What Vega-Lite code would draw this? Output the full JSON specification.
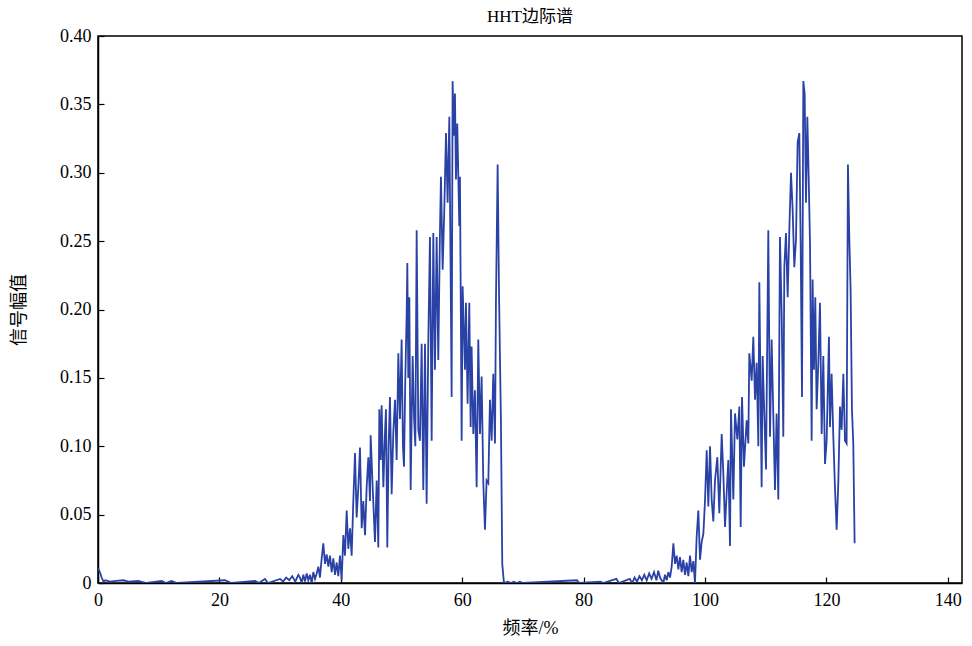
{
  "$schema": "https://vega.github.io/schema/vega-lite/v6.json",
  "width": 864,
  "height": 547,
  "autosize": {"type": "none"},
  "padding": {"left": 98, "top": 36, "right": 10, "bottom": 63},
  "background": "white",
  "config": {
    "view": {"stroke": "black", "strokeWidth": 1.5},
    "font": "Liberation Serif",
    "axis": {"grid": false, "domainColor": "black", "domainWidth": 1.5, "tickColor": "black", "tickWidth": 1.2, "labelColor": "black", "titleColor": "black", "labelFont": "Liberation Serif", "titleFont": "Liberation Serif, Noto Sans CJK SC", "labelFontSize": 18, "titleFontSize": 18, "titleFontWeight": "normal"}
  },
  "title": {"text": "HHT边际谱", "font": "Liberation Serif, Noto Sans CJK SC", "fontSize": 17, "fontWeight": "normal", "color": "black", "anchor": "middle", "offset": 1},
  "data": {"values": [
    {"f":0,"a":0.011},{"f":0.3,"a":0.008},{"f":0.6,"a":0.004},{"f":0.9,"a":0.001},{"f":1.2,"a":0.002},{"f":2,"a":0.001},{"f":3,"a":0.0015},{"f":4.2,"a":0.002},{"f":5,"a":0.001},{"f":6.6,"a":0.0015},{"f":8,"a":0},{"f":10.5,"a":0.0015},{"f":11.2,"a":0},{"f":12.1,"a":0.0015},{"f":13,"a":0},{"f":20.9,"a":0.002},{"f":22,"a":0},{"f":25.9,"a":0.0015},{"f":26.5,"a":0},{"f":27.5,"a":0.003},{"f":28,"a":0},{"f":30,"a":0.003},{"f":30.5,"a":0.001},{"f":31,"a":0.004},{"f":31.5,"a":0.002},{"f":32,"a":0.005},{"f":32.5,"a":0.001},{"f":33,"a":0.006},
    {"f":33.28,"a":0.004},{"f":33.55,"a":0},{"f":33.83,"a":0.006},{"f":34.1,"a":0.001},{"f":34.38,"a":0.007},{"f":34.65,"a":0.002},{"f":34.93,"a":0.006},{"f":35.2,"a":0},{"f":35.48,"a":0.008},{"f":35.75,"a":0.003},{"f":36.03,"a":0.007},{"f":36.3,"a":0.012},{"f":36.57,"a":0.004},{"f":36.85,"a":0.018},{"f":37.12,"a":0.029},{"f":37.4,"a":0.014},{"f":37.67,"a":0.021},{"f":37.95,"a":0.012},{"f":38.22,"a":0.02},{"f":38.5,"a":0.008},{"f":38.77,"a":0.018},{"f":39.04,"a":0.006},{"f":39.32,"a":0.015},{"f":39.59,"a":0.005},{"f":39.87,"a":0.02},{"f":40.14,"a":0.002},{"f":40.42,"a":0.035},{"f":40.69,"a":0.02},{"f":40.97,"a":0.053},{"f":41.24,"a":0.025},{"f":41.52,"a":0.04},{"f":41.79,"a":0.02},{"f":42.06,"a":0.06},{"f":42.34,"a":0.095},{"f":42.61,"a":0.048},{"f":42.89,"a":0.07},{"f":43.16,"a":0.099},{"f":43.44,"a":0.04},{"f":43.71,"a":0.06},{"f":43.99,"a":0.035},{"f":44.26,"a":0.07},{"f":44.54,"a":0.092},{"f":44.81,"a":0.06},{"f":44.92,"a":0.108},{"f":45.25,"a":0.07},{"f":45.63,"a":0.03},{"f":45.91,"a":0.075},{"f":46.18,"a":0.026},{"f":46.35,"a":0.127},{"f":46.57,"a":0.09},{"f":46.73,"a":0.13},{"f":47.01,"a":0.07},{"f":47.28,"a":0.11},{"f":47.44,"a":0.127},{"f":47.66,"a":0.026},{"f":47.88,"a":0.1},{"f":48.1,"a":0.136},{"f":48.38,"a":0.065},{"f":48.65,"a":0.11},{"f":48.93,"a":0.134},{"f":49.2,"a":0.09},{"f":49.48,"a":0.168},
    {"f":49.75,"a":0.12},{"f":50.02,"a":0.178},{"f":50.24,"a":0.1},{"f":50.41,"a":0.085},{"f":50.63,"a":0.15},{"f":50.85,"a":0.197},{"f":50.96,"a":0.234},{"f":51.12,"a":0.15},{"f":51.29,"a":0.209},{"f":51.51,"a":0.068},{"f":51.67,"a":0.12},{"f":51.84,"a":0.166},{"f":52.06,"a":0.122},{"f":52.28,"a":0.1},{"f":52.5,"a":0.258},{"f":52.77,"a":0.112},{"f":53.04,"a":0.104},{"f":53.32,"a":0.175},{"f":53.59,"a":0.068},{"f":53.87,"a":0.175},{"f":54.14,"a":0.058},{"f":54.42,"a":0.178},{"f":54.69,"a":0.253},{"f":54.97,"a":0.104},{"f":55.24,"a":0.256},{"f":55.51,"a":0.156},{"f":55.79,"a":0.253},{"f":56.06,"a":0.163},{"f":56.34,"a":0.258},{"f":56.5,"a":0.297},{"f":56.78,"a":0.229},{"f":57.05,"a":0.273},{"f":57.33,"a":0.329},{"f":57.6,"a":0.278},{"f":57.88,"a":0.341},{"f":58.1,"a":0.224},{"f":58.26,"a":0.136},{"f":58.42,"a":0.367},{"f":58.64,"a":0.327},{"f":58.81,"a":0.358},{"f":58.97,"a":0.295},{"f":59.19,"a":0.336},{"f":59.52,"a":0.261},{"f":59.63,"a":0.297},{"f":59.91,"a":0.104},{"f":60.07,"a":0.217},{"f":60.46,"a":0.156},{"f":60.62,"a":0.205},{"f":60.89,"a":0.131},{"f":61.17,"a":0.205},{"f":61.39,"a":0.114},{"f":61.55,"a":0.173},{"f":61.83,"a":0.109},{"f":62.1,"a":0.141},{"f":62.38,"a":0.07},{"f":62.65,"a":0.178},{"f":62.93,"a":0.109},{"f":63.2,"a":0.151},{"f":63.48,"a":0.073},{"f":63.75,"a":0.039},{"f":64.02,"a":0.075},{"f":64.3,"a":0.073},{"f":64.57,"a":0.134},{"f":64.85,"a":0.104},{"f":65.12,"a":0.153},{"f":65.4,"a":0.102},{"f":65.56,"a":0.205},{"f":65.84,"a":0.306},{"f":66.06,"a":0.214},{"f":66.22,"a":0.165},{"f":66.38,"a":0.119},{"f":66.6,"a":0.014},{"f":66.88,"a":0},
    {"f":67.5,"a":0.001},{"f":68,"a":0},{"f":68.5,"a":0.001},{"f":69,"a":0},{"f":69.5,"a":0.001},{"f":70,"a":0},{"f":78.9,"a":0.002},{"f":79.3,"a":0},{"f":82.8,"a":0.001},{"f":83.2,"a":0},{"f":85.4,"a":0.003},{"f":85.8,"a":0},{"f":87.6,"a":0.003},{"f":88,"a":0},{"f":88.4,"a":0.004},{"f":88.8,"a":0.001},{"f":89.2,"a":0.005},{"f":89.6,"a":0.002},{"f":90,"a":0.006},{"f":90.4,"a":0.002},{"f":90.8,"a":0.007},{"f":91.2,"a":0.003},{"f":91.6,"a":0.008},{"f":92,"a":0.002},{"f":92.3,"a":0.009},
    {"f":92.59,"a":0.004},{"f":93.14,"a":0},{"f":93.41,"a":0.006},{"f":93.69,"a":0.002},{"f":93.96,"a":0.008},{"f":94.24,"a":0.004},{"f":94.51,"a":0.012},{"f":94.79,"a":0.029},{"f":95.06,"a":0.014},{"f":95.34,"a":0.02},{"f":95.61,"a":0.01},{"f":95.88,"a":0.019},{"f":96.16,"a":0.008},{"f":96.43,"a":0.017},{"f":96.71,"a":0.006},{"f":96.98,"a":0.015},{"f":97.26,"a":0.005},{"f":97.53,"a":0.02},{"f":97.81,"a":0.008},{"f":98.08,"a":0.016},{"f":98.35,"a":0},{"f":98.63,"a":0.034},{"f":98.9,"a":0.053},{"f":99.18,"a":0.017},{"f":99.45,"a":0.03},{"f":99.73,"a":0.036},{"f":100,"a":0.06},{"f":100.28,"a":0.097},{"f":100.55,"a":0.056},{"f":100.83,"a":0.1},{"f":101.1,"a":0.061},{"f":101.37,"a":0.045},{"f":101.65,"a":0.075},{"f":102.03,"a":0.092},{"f":102.36,"a":0.051},{"f":102.75,"a":0.109},{"f":103.02,"a":0.08},{"f":103.3,"a":0.041},{"f":103.57,"a":0.066},{"f":103.84,"a":0.09},{"f":104.12,"a":0.027},{"f":104.28,"a":0.127},{"f":104.67,"a":0.061},{"f":104.94,"a":0.124},{"f":105.33,"a":0.105},{"f":105.66,"a":0.129},{"f":105.88,"a":0.041},{"f":106.1,"a":0.136},{"f":106.42,"a":0.085},{"f":106.86,"a":0.119},{"f":107.14,"a":0.102},{"f":107.3,"a":0.168},{"f":107.69,"a":0.148},{"f":107.96,"a":0.18},{"f":108.24,"a":0.134},{"f":108.51,"a":0.161},{"f":108.79,"a":0.1},{"f":108.95,"a":0.22},
    {"f":109.33,"a":0.07},{"f":109.5,"a":0.166},{"f":109.72,"a":0.131},{"f":110.05,"a":0.083},{"f":110.43,"a":0.258},{"f":110.71,"a":0.107},{"f":110.98,"a":0.178},{"f":111.26,"a":0.122},{"f":111.53,"a":0.068},{"f":111.8,"a":0.124},{"f":112.08,"a":0.061},{"f":112.35,"a":0.253},{"f":112.63,"a":0.197},{"f":112.9,"a":0.107},{"f":113.07,"a":0.231},{"f":113.34,"a":0.256},{"f":113.62,"a":0.209},{"f":113.89,"a":0.258},{"f":114.17,"a":0.3},{"f":114.44,"a":0.273},{"f":114.71,"a":0.231},{"f":114.99,"a":0.251},{"f":115.26,"a":0.322},{"f":115.54,"a":0.329},{"f":115.76,"a":0.248},{"f":115.98,"a":0.136},{"f":116.2,"a":0.367},{"f":116.42,"a":0.358},{"f":116.64,"a":0.278},{"f":116.86,"a":0.341},{"f":117.08,"a":0.297},{"f":117.3,"a":0.248},{"f":117.57,"a":0.104},{"f":117.73,"a":0.222},{"f":117.95,"a":0.156},{"f":118.17,"a":0.209},{"f":118.39,"a":0.127},{"f":118.67,"a":0.161},{"f":118.94,"a":0.205},{"f":119.22,"a":0.109},{"f":119.49,"a":0.166},{"f":119.77,"a":0.087},{"f":120.04,"a":0.104},{"f":120.42,"a":0.18},{"f":120.59,"a":0.114},{"f":120.86,"a":0.153},{"f":121.14,"a":0.107},{"f":121.41,"a":0.07},{"f":121.69,"a":0.039},{"f":121.96,"a":0.073},{"f":122.24,"a":0.129},{"f":122.51,"a":0.112},{"f":122.79,"a":0.153},{"f":123.06,"a":0.104},{"f":123.33,"a":0.102},{"f":123.55,"a":0.306},{"f":123.77,"a":0.253},{"f":123.99,"a":0.214},{"f":124.21,"a":0.127},{"f":124.43,"a":0.102},{"f":124.65,"a":0.029}
  ]},
  "mark": {"type": "line", "color": "#2A42A6", "strokeWidth": 1.8, "clip": true},
  "encoding": {
    "x": {"field": "f", "type": "quantitative", "title": "频率/%",
          "scale": {"domain": [0, 142.34], "nice": false, "zero": false},
          "axis": {"values": [0,20,40,60,80,100,120,140], "tickSize": -6, "labelPadding": 14, "titlePadding": 10, "labelFlush": false}},
    "y": {"field": "a", "type": "quantitative", "title": "信号幅值",
          "scale": {"domain": [0, 0.4], "nice": false},
          "axis": {"values": [0,0.05,0.1,0.15,0.2,0.25,0.3,0.35,0.4], "tickSize": -6, "labelPadding": 13, "titlePadding": 31, "labelExpr": "datum.value == 0 ? '0' : format(datum.value, '.2f')", "labelFlush": false}}
  }
}
